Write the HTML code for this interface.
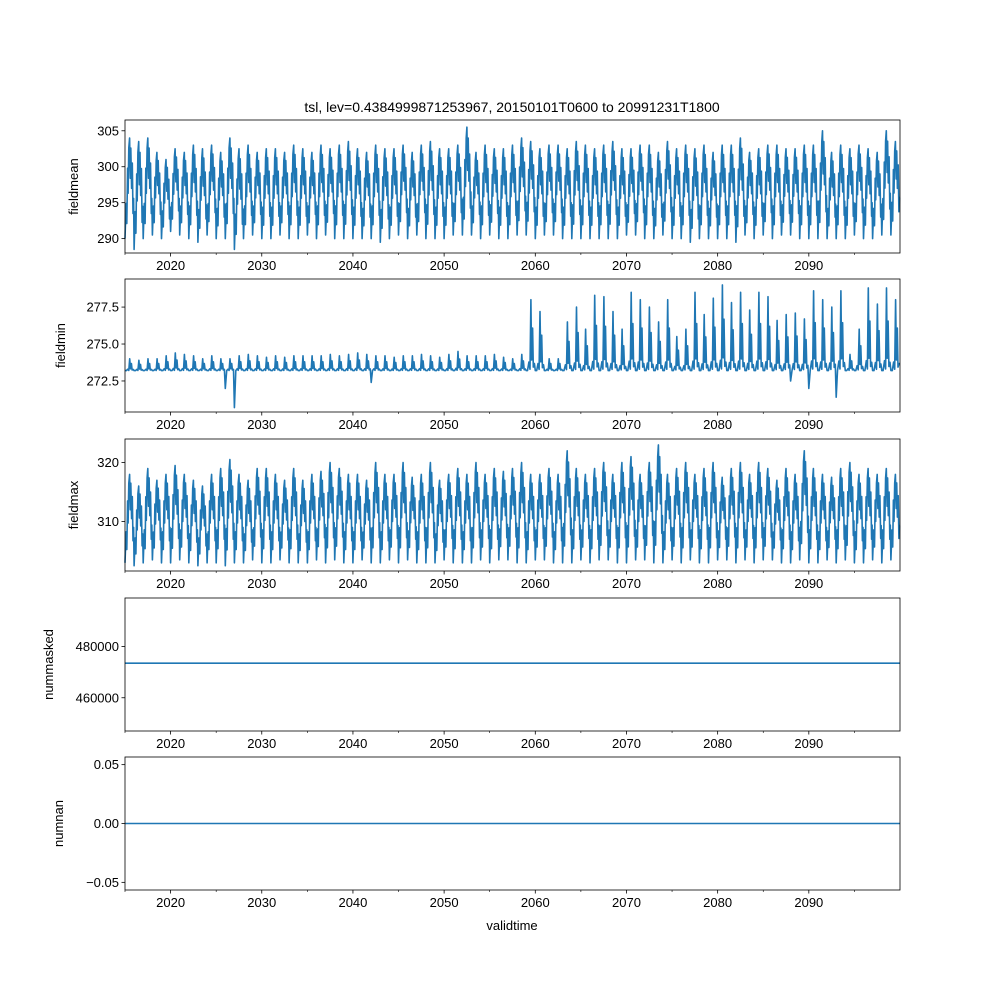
<!DOCTYPE html>
<html><head><meta charset="utf-8"><style>
body{margin:0;background:#fff;}
svg text{font-family:"Liberation Sans","DejaVu Sans",sans-serif;font-size:13px;fill:#000;}
</style></head><body>
<svg id="chart" width="1000" height="1000" xmlns="http://www.w3.org/2000/svg">
<rect width="1000" height="1000" fill="#fff"/>
<text x="512" y="112" text-anchor="middle" style="font-size:14px">tsl, lev=0.4384999871253967, 20150101T0600 to 20991231T1800</text>
<text x="512" y="930" text-anchor="middle">validtime</text>
</svg>
<script>
const years = [];
for (let y = 2015; y < 2100; y++) years.push(y);
const xTickLabels = [2020,2030,2040,2050,2060,2070,2080,2090];
const fmPeak = [304,303.5,304,302,301,302.5,302,303,302.5,303,302,304,302.5,303,302,302.5,302.5,302,303,302.5,302,303,302.5,303,303.5,302.5,302,303,302.5,302.5,303,302,303,303.5,302.5,302.5,303,305.5,302,303,302.5,302.5,303,304,303.5,302.5,303,303,302.5,303.5,303,302.5,303,303.5,302.5,302.5,303,303,302,303.5,302.5,303,302.5,303,302,303,303,304,302,302.5,303,303,302.5,302.5,303,303,305,302,303,302.5,303,302.5,302,305,303.5];
const fmTrough = [290,288.5,290,290.5,290,291,290.5,290,289.5,290.5,290,290,288.5,290,290.5,290,290,290.5,290,290,290.5,290,290.5,290,290,290,290,290,289.5,290,290.5,290,290.5,290,290,290,290.5,290.5,290.5,290,290.5,290,290,290.5,290.5,290,290.5,290.5,290,290,290,290,290,290,290,290.5,290.5,290,290,290.5,290,290,289.5,290,290,290,290,289.5,290.5,290,290.5,290,290.5,290.5,290,290,290,290,290,290,290.5,290,290,290.5,290.5];
const fnPeak = [274,273.9,274,274,274.2,274.4,274.3,274.2,274,274.2,274,274,274.2,274.3,274.2,274.1,274.2,274.1,274.2,274.2,274.2,274.2,274.3,274.2,274.3,274.4,274.3,274.2,274.2,274.1,274.2,274.2,274.3,274.2,274.1,274.3,274.5,274.2,274.2,274.2,274.3,274.1,274,274.3,278,277.2,274,274,276.5,277.5,276,278.3,278.2,277.2,276,278.5,278,277.5,276.5,278,275.5,276,278.5,277,278.1,279,277.8,278.5,277.3,278.5,278.2,276.6,277,277.1,276.7,278.6,278,277.5,278.6,274.3,276,278.8,277.7,278.8,278];
const fnTrough = [273.2,273.2,273.2,273.2,273.2,273.2,273.2,273.2,273.2,273.2,273.2,272,270.7,273.2,273.2,273.2,273.2,273.2,273.2,273.2,273.2,273.2,273.2,273.2,273.2,273.2,273.2,272.4,273.2,273.2,273.2,273.2,273.2,273.2,273.2,273.2,273.2,273.2,273.2,273.2,273.2,273.2,273.2,273.2,273.2,273.2,273.2,273.2,273.2,273.2,273.2,273.2,273.2,273.2,273.2,273.2,273.2,273.2,273.2,273.2,273.2,273.2,273.2,273.2,273.2,273.2,273.2,273.2,273.2,273.2,273.2,273.2,273.2,272.5,273.2,272,273.2,273.2,271.4,273.2,273.2,273.2,273.2,273.2,273.2];
const fxPeak = [318,316,319,317,318,319.5,318,317,316,318,319,320.5,318,317,319,319,318,317,319,317,318,318.5,320,319,318,318,317,320,318,318,320,317.5,318,320,317,318,319,318,320,318,319,318.5,319,320,318,318,319,318,322,319,318,319,320,318,320,321,318,320,323,318,319,320,318,319,320,317.5,319,320,318,320,319,317,319,318,322,319,318,317.5,319,320,318,319,318,319,318];
const fxTrough = [303,302.5,303,303.5,303,303,303.5,303,302.5,303,303,302.5,303,303,303.5,303,303,303.5,303,303,303,303.5,303,303.5,303,303,303.5,303,303,303.5,303,303.5,303,303,303,303.5,303,303,303,303.5,303,303.5,303.5,303,303,303.5,303.5,303,303,303,303.5,303,303.5,303.5,303,303,303.5,303.5,303,303,303.5,303,303.5,303,303,303.5,303.5,303,303.5,303,303.5,303.5,303,303,303.5,303,303,303.5,303,303.5,303,303,303.5,303,303.5];
const nmValues = [473500, 473500];
const nnValues = [0, 0];

const NS = "http://www.w3.org/2000/svg";
const svg = document.getElementById('chart');
const X0 = 125, X1 = 900;
const xScale = t => X0 + (t - 2015) / 85 * (X1 - X0);
function el(tag, attrs, parent) {
  const e = document.createElementNS(NS, tag);
  for (const k in attrs) e.setAttribute(k, attrs[k]);
  (parent || svg).appendChild(e);
  return e;
}
// seasonal cycle shape: [fraction of year, fraction of range]
const wideShape = [[0,0],[0.12,0.35],[0.2,0.15],[0.28,0.7],[0.34,0.45],[0.42,0.9],[0.5,1],[0.58,0.6],[0.64,0.9],[0.72,0.5],[0.8,0.75],[0.88,0.25],[0.94,0.4]];
const minShape = [[0,0.05],[0.15,0],[0.3,0.12],[0.42,0.02],[0.52,1],[0.6,0.15],[0.7,0.6],[0.78,0.05],[0.9,0.1]];
const panels = [
  {name:'fieldmean', top:120, bot:253, ymin:288, ymax:306.5, ticks:[290,295,300,305], fmt:v=>String(v), peak:fmPeak, trough:fmTrough, shape:wideShape, lx:78},
  {name:'fieldmin', top:279, bot:412, ymin:270.4, ymax:279.4, ticks:[272.5,275.0,277.5], fmt:v=>v.toFixed(1), peak:fnPeak, trough:fnTrough, shape:minShape, lx:65},
  {name:'fieldmax', top:439, bot:571, ymin:301.6, ymax:324, ticks:[310,320], fmt:v=>String(v), peak:fxPeak, trough:fxTrough, shape:wideShape, lx:78},
  {name:'nummasked', top:598, bot:731, ymin:447000, ymax:499000, ticks:[460000,480000], fmt:v=>String(v), flat:nmValues, lx:53},
  {name:'numnan', top:757, bot:890, ymin:-0.0565, ymax:0.0565, ticks:[-0.05,0.00,0.05], fmt:v=>(v<0?'\u22120.05':v.toFixed(2)), flat:nnValues, lx:63}
];
panels.forEach(p => {
  const g = el('g', {});
  
  
  const yS = v => p.bot - (v - p.ymin) / (p.ymax - p.ymin) * (p.bot - p.top);
  let pts = [];
  if (p.flat) {
    pts = [[X0, yS(p.flat[0])], [X1, yS(p.flat[1])]];
  } else {
    years.forEach((y, i) => {
      const lo = p.trough[i], hi = p.peak[i];
      const base = p.name === 'fieldmin' ? 273.2 : lo;
      p.shape.forEach((s, k) => {
        let v;
        if (p.name === 'fieldmin') {
          v = (k === 0 || k === 1) ? (lo + (base - lo) * (k === 0 ? 0 : 1)) : base + s[1] * (hi - base);
          if (k === 0) v = lo;
        } else v = lo + s[1] * (hi - lo);
        pts.push([xScale(y + s[0]), yS(v)]);
      });
    });
    pts.push([X1, pts[pts.length - 1][1]]);
  }
  const line = el('polyline', {points: pts.map(q => q[0].toFixed(1) + ',' + q[1].toFixed(1)).join(' '), fill:'none', stroke:'#1f77b4', 'stroke-width':1.6, 'stroke-linejoin':'round'}, g);
  
  
  const frame = el('rect', {x:X0, y:p.top, width:X1 - X0, height:p.bot - p.top, fill:'none', stroke:'#000', 'stroke-width':0.8}, g);
  
  
  xTickLabels.forEach(t => {
    const x = xScale(t);
    el('line', {x1:x, x2:x, y1:p.bot, y2:p.bot + 3.5, stroke:'#000', 'stroke-width':0.8}, g);
    const tx = el('text', {x:x, y:p.bot + 17, 'text-anchor':'middle'}, g);
    tx.textContent = t;
    
    
  });
  for (let t = 2015; t <= 2100; t += 10) {
    const x = xScale(t);
    el('line', {x1:x, x2:x, y1:p.bot, y2:p.bot + 2, stroke:'#000', 'stroke-width':0.6}, g);
  }
  p.ticks.forEach(v => {
    const y = yS(v);
    el('line', {x1:X0 - 3.5, x2:X0, y1:y, y2:y, stroke:'#000', 'stroke-width':0.8}, g);
    const tx = el('text', {x:X0 - 6, y:y + 4.5, 'text-anchor':'end'}, g);
    tx.textContent = p.fmt(v);
    
    
  });
  const cy = (p.top + p.bot) / 2;
  const yl = el('text', {x:p.lx, y:cy, 'text-anchor':'middle', transform:'rotate(-90 ' + p.lx + ' ' + cy + ')'}, g);
  yl.textContent = p.name;
  
  
});
</script>
</body></html>
